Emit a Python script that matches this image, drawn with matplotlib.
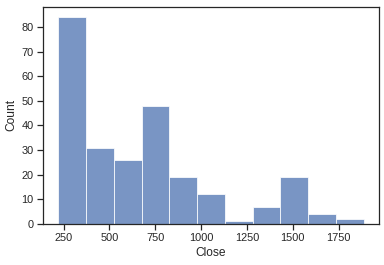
import numpy as np
import matplotlib
matplotlib.use("Agg")
import matplotlib.pyplot as plt
import seaborn as sns

# histogram of closing prices
bin_lo = 221
bin_hi = 1887
counts = [84, 31, 26, 48, 19, 12, 1, 7, 19, 4, 2]
xticks = [250, 500, 750, 1000, 1250, 1500, 1750]

sns.set_theme(style="ticks")
plt.rcParams["font.family"] = ["Liberation Sans", "DejaVu Sans"]

fig, ax = plt.subplots(figsize=(384 / 72, 265 / 72), dpi=72)
fig.subplots_adjust(left=0.112, right=0.987, top=0.974, bottom=0.155)

edges = np.linspace(bin_lo, bin_hi, len(counts) + 1)
ax.hist(edges[:-1], bins=edges, weights=counts, color="#4c72b0",
        alpha=0.75, edgecolor="white", linewidth=1)

ax.set_xticks(xticks)
ax.set_ylim(0, max(counts) * 1.05)
ax.set_xlabel("Close")
ax.set_ylabel("Count")

fig.savefig("out.png", dpi=72)
